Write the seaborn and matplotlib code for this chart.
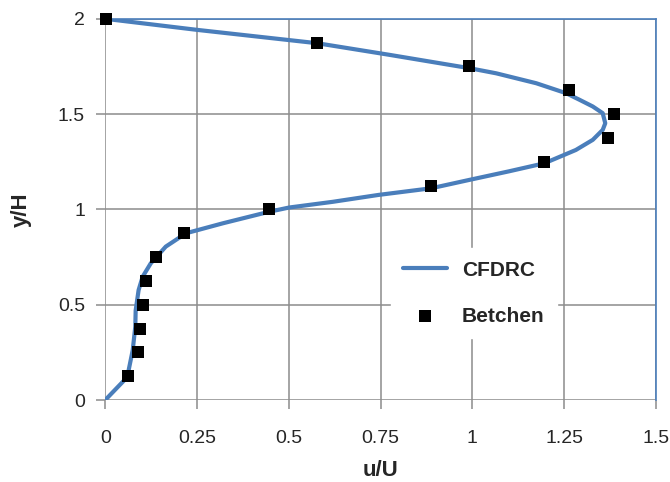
import pandas as pd
import seaborn as sns
import matplotlib.pyplot as plt

# CFDRC simulation profile
cfd_u = [0.0, 0.03, 0.06, 0.075, 0.082, 0.083, 0.091, 0.102, 0.124, 0.165, 0.22, 0.32,
         0.447, 0.501, 0.62, 0.744, 0.888, 0.992, 1.10, 1.196, 1.282, 1.328, 1.355,
         1.362, 1.355, 1.328, 1.292, 1.255, 1.174, 1.065, 0.992, 0.774, 0.577, 0.25, 0.0]
cfd_y = [0.0, 0.06, 0.12, 0.262, 0.385, 0.47, 0.577, 0.647, 0.717, 0.805, 0.875, 0.927,
         0.988, 1.01, 1.04, 1.076, 1.111, 1.155, 1.20, 1.242, 1.312, 1.365, 1.417,
         1.452, 1.505, 1.540, 1.575, 1.61, 1.662, 1.714, 1.741, 1.811, 1.872, 1.942, 2.0]

# Betchen experimental data
bet_u = [0.063, 0.090, 0.094, 0.103, 0.112, 0.139, 0.215, 0.447, 0.888, 1.196,
         1.370, 1.387, 1.262, 0.992, 0.577, 0.002]
bet_y = [0.125, 0.25, 0.375, 0.5, 0.625, 0.75, 0.875, 1.0, 1.125, 1.25,
         1.375, 1.5, 1.625, 1.75, 1.875, 2.0]

x_ticks = [0, 0.25, 0.5, 0.75, 1, 1.25, 1.5]
x_labels = ["0", "0.25", "0.5", "0.75", "1", "1.25", "1.5"]
y_ticks = [0, 0.5, 1, 1.5, 2]
y_labels = ["0", "0.5", "1", "1.5", "2"]

cfd = pd.DataFrame({"u": cfd_u, "y": cfd_y})
bet = pd.DataFrame({"u": bet_u, "y": bet_y})

sns.set_style("white")
plt.rcParams["font.family"] = ["Liberation Sans", "DejaVu Sans"]

fig = plt.figure(figsize=(6.7, 4.82), dpi=100)
ax = fig.add_axes([0.157, 0.170, 0.822, 0.791])

sns.lineplot(data=cfd, x="u", y="y", sort=False, estimator=None, color="#4A7EBB",
             linewidth=3, label="CFDRC", ax=ax, zorder=3)
sns.scatterplot(data=bet, x="u", y="y", marker="s", s=75, color="black",
                edgecolor="black", linewidth=0, label="Betchen", ax=ax, zorder=4,
                clip_on=False)

ax.set_xlim(0, 1.5)
ax.set_ylim(0, 2)
ax.set_xticks(x_ticks)
ax.set_xticklabels(x_labels, fontsize=14)
ax.set_yticks(y_ticks)
ax.set_yticklabels(y_labels, fontsize=14)
ax.grid(True, color="#8c8c8c", linewidth=1.1)
ax.set_axisbelow(True)
ax.tick_params(axis="both", which="both", length=6.5, width=1.1, color="#8c8c8c",
               direction="out", left=True, bottom=True)
ax.tick_params(axis="x", pad=15)
ax.tick_params(axis="y", pad=8)

for side in ["left", "bottom"]:
    ax.spines[side].set_visible(False)
for side in ["top", "right"]:
    ax.spines[side].set_visible(True)
    ax.spines[side].set_color("#4A7EBB")
    ax.spines[side].set_linewidth(1.2)

ax.set_xlabel("u/U", fontsize=16, fontweight="bold")
ax.set_ylabel("y/H", fontsize=16, fontweight="bold")
ax.xaxis.set_label_coords(0.5, -0.158)
ax.yaxis.set_label_coords(-0.133, 0.5)

leg = ax.legend(loc="center left", bbox_to_anchor=(0.50, 0.28), frameon=True,
                fancybox=False, edgecolor="white", framealpha=1,
                prop={"weight": "bold", "size": 15}, handlelength=2.1,
                labelspacing=1.3, borderpad=0.6, handletextpad=0.7)
leg.set_zorder(5)

fig.savefig("out.png", dpi=100)
